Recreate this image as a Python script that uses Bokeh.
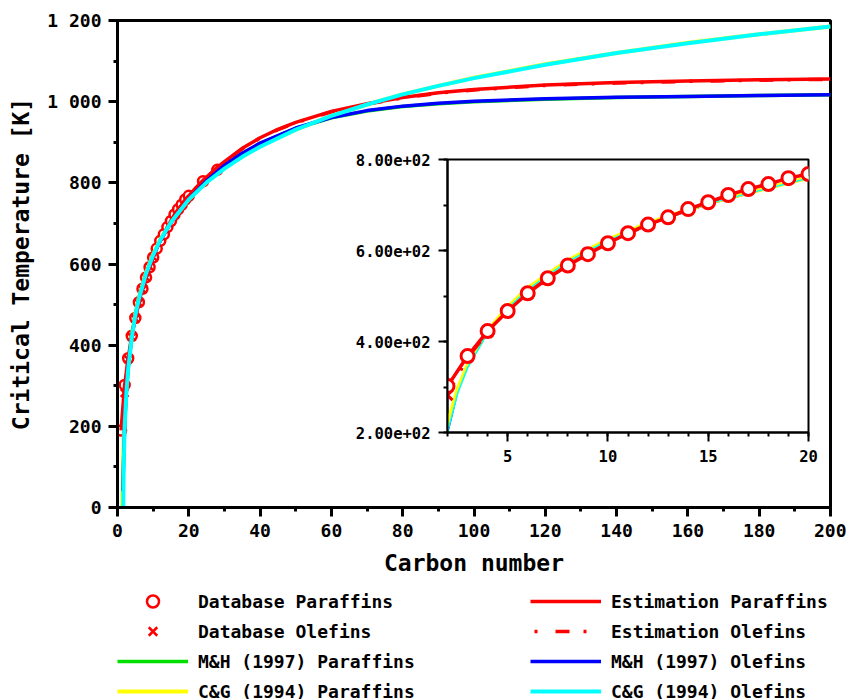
from bokeh.plotting import figure
from bokeh.models import (Range1d, SingleIntervalTicker, CustomJSTickFormatter,
                          Legend, LegendItem)
from bokeh.embed import file_html
from bokeh.resources import INLINE

FONT = "DejaVu Sans Mono"

# ---------------- data ----------------
# Database paraffins (circles)
db_par_n = [1, 2, 3, 4, 5, 6, 7, 8, 9, 10, 11, 12, 13, 14, 15, 16, 17, 18, 19, 20, 24, 28]
db_par_t = [190, 302, 368, 423, 467, 506, 539, 567, 592, 616, 638, 657, 673, 691, 706,
            722, 735, 746, 759, 768, 804, 832]
# Database olefins (crosses)
db_ol_n = [2, 3, 4, 5, 6, 7, 8, 9, 10]
db_ol_t = [282, 365, 420, 465, 504, 537, 567, 594, 617]

# Estimation paraffins (red solid)
est_par_n = [1, 2, 3, 4, 5, 6, 7, 8, 9, 10, 11, 12, 13, 14, 15, 16, 17, 18, 19, 20,
             22, 24, 26, 28, 30, 35, 40, 45, 50, 60, 70, 80, 90, 100,
             120, 140, 160, 180, 200]
est_par_t = [190, 302, 368, 423, 467, 506, 539, 567, 592, 616, 638, 657, 673, 691, 706,
             722, 735, 746, 759, 768, 788, 806, 822, 838, 852, 885, 911, 932, 949,
             976, 995, 1010, 1022, 1030, 1041, 1047, 1051, 1054, 1056]
# Estimation olefins (red dash-dot)
est_ol_n = [2, 3, 4, 5, 6, 7, 8, 9, 10, 11, 12, 13, 14, 15, 16, 17, 18, 19, 20,
            22, 24, 26, 28, 30, 35, 40, 45, 50, 60, 70, 80, 90, 100,
            120, 140, 160, 180, 200]
est_ol_t = [282, 364, 419, 465, 504, 537, 566, 593, 616, 637, 656, 673, 690, 706, 721,
            734, 746, 758, 768, 787, 805, 821, 837, 851, 884, 910, 931, 948,
            975, 994, 1009, 1021, 1029, 1040, 1046, 1050, 1053, 1055]

# Marano & Holder (1997)
mh_n = [1.5, 1.75, 2, 2.5, 3, 4, 5, 6, 8, 10, 12, 15, 20, 25, 30, 35, 40, 50, 60, 70,
        80, 90, 100, 120, 140, 160, 180, 200]
mh_par_t = [60, 150, 215, 298, 350, 425, 477, 517, 577, 621, 658, 703, 760, 805, 842,
            872, 897, 934, 960, 977, 988, 995, 1000, 1006, 1010, 1013, 1015, 1017]
mh_ol_t = [40, 130, 200, 290, 345, 420, 473, 514, 575, 620, 657, 702, 760, 805, 843,
           873, 898, 935, 961, 978, 989, 996, 1001, 1007, 1011, 1013, 1015, 1017]

# Constantinou & Gani (1994)
cg_par_n = [1.33, 1.4, 1.5, 1.75, 2, 2.5, 3, 4, 5, 6, 8, 10, 12, 15, 20, 25, 30, 35, 40,
            50, 60, 70, 80, 90, 100, 120, 140, 160, 180, 200]
cg_par_t = [3, 42, 86, 165, 219, 295, 348, 423, 476, 517, 578, 624, 660, 704, 760, 802,
            836, 865, 890, 931, 965, 993, 1018, 1039, 1059, 1092, 1120, 1145, 1166, 1185]
cg_ol_n = [1.6, 1.7, 1.8, 2, 2.5, 3, 4, 5, 6, 8, 10, 12, 15, 20, 25, 30, 35, 40,
           50, 60, 70, 80, 90, 100, 120, 140, 160, 180, 200]
cg_ol_t = [0, 70, 125, 200, 285, 342, 419, 473, 514, 576, 622, 659, 703, 759, 801,
           835, 864, 889, 931, 965, 993, 1018, 1039, 1058, 1091, 1120, 1144, 1166, 1185]

RED, GREEN, YELLOW, BLUE, CYAN = "#ff0000", "#00e000", "#ffff00", "#0000ff", "#00ffff"
DASHDOT = "14 14 3 18"


def draw_series(fig, inset=False):
    """Draw all eight series on a figure; returns the renderers keyed by series."""
    r = {}
    if inset:
        r["mhp"] = fig.line(mh_n, mh_par_t, line_color=GREEN, line_width=2)
        r["mho"] = fig.line(mh_n, mh_ol_t, line_color=BLUE, line_width=2)
        r["cgp"] = fig.line(cg_par_n, cg_par_t, line_color=YELLOW, line_width=4)
        r["cgo"] = fig.line(cg_ol_n, cg_ol_t, line_color=CYAN, line_width=1.5)
        r["esto"] = fig.line(est_ol_n, est_ol_t, line_color=RED, line_width=3, line_dash=DASHDOT)
        r["estp"] = fig.line(est_par_n, est_par_t, line_color=RED, line_width=3.5)
        r["dbo"] = fig.scatter(db_ol_n, db_ol_t, marker="x", size=14, line_color=RED, line_width=3)
        r["dbp"] = fig.scatter(db_par_n, db_par_t, marker="circle", size=13, line_color=RED,
                               line_width=3, fill_color="white")
    else:
        r["dbp"] = fig.scatter(db_par_n, db_par_t, marker="circle", size=10, line_color=RED,
                               line_width=2.5, fill_color="white")
        r["dbo"] = fig.scatter(db_ol_n, db_ol_t, marker="x", size=11, line_color=RED, line_width=2.5)
        r["mhp"] = fig.line(mh_n, mh_par_t, line_color=GREEN, line_width=3.5)
        r["cgp"] = fig.line(cg_par_n, cg_par_t, line_color=YELLOW, line_width=4)
        r["estp"] = fig.line(est_par_n, est_par_t, line_color=RED, line_width=3.5)
        r["esto"] = fig.line(est_ol_n, est_ol_t, line_color=RED, line_width=3.5,
                             line_dash=DASHDOT, line_dash_offset=24)
        r["mho"] = fig.line(mh_n, mh_ol_t, line_color=BLUE, line_width=3.5)
        r["cgo"] = fig.line(cg_ol_n, cg_ol_t, line_color=CYAN, line_width=4)
    return r


# ---------------- main figure ----------------
p = figure(width=846, height=699, x_range=Range1d(0, 200), y_range=Range1d(0, 1200),
           output_backend="svg", toolbar_location=None,
           min_border_left=117, min_border_right=16, min_border_top=20, min_border_bottom=192)
p.outline_line_color = "black"
p.outline_line_width = 3
p.xgrid.visible = False
p.ygrid.visible = False

p.xaxis.ticker = SingleIntervalTicker(interval=20, num_minor_ticks=2)
p.yaxis.ticker = SingleIntervalTicker(interval=200, num_minor_ticks=2)
p.yaxis.formatter = CustomJSTickFormatter(code="""
    if (tick >= 1000) { return Math.floor(tick/1000) + ' ' + String(tick % 1000).padStart(3, '0'); }
    return String(tick);
""")
p.xaxis.axis_label = "Carbon number"
p.yaxis.axis_label = "Critical Temperature [K]"
for ax in (p.xaxis[0], p.yaxis[0]):
    ax.axis_line_width = 3
    ax.major_tick_line_width = 3
    ax.minor_tick_line_width = 3
    ax.major_tick_out = 9
    ax.major_tick_in = 0
    ax.minor_tick_out = 4
    ax.minor_tick_in = 0
    ax.major_label_standoff = 7
    ax.major_label_text_font = FONT
    ax.major_label_text_font_style = "bold"
    ax.major_label_text_font_size = "18px"
    ax.major_label_text_color = "black"
    ax.axis_label_text_font = FONT
    ax.axis_label_text_font_style = "bold"
    ax.axis_label_text_font_size = "23px"
    ax.axis_label_text_color = "black"
    ax.axis_label_standoff = 10

draw_series(p)

# ---------------- inset figure (overlaid) ----------------
q = figure(width=846, height=699, x_range=Range1d(2, 20), y_range=Range1d(200, 800),
           output_backend="svg", toolbar_location=None,
           min_border_left=447, min_border_right=38, min_border_top=159, min_border_bottom=267,
           border_fill_color=None, background_fill_color="white")
q.styles = {"position": "absolute", "left": "0px", "top": "0px"}
q.outline_line_color = "black"
q.outline_line_width = 2
q.xgrid.visible = False
q.ygrid.visible = False
q.xaxis.ticker = SingleIntervalTicker(interval=5, num_minor_ticks=5)
q.yaxis.ticker = SingleIntervalTicker(interval=200, num_minor_ticks=2)
q.yaxis.formatter = CustomJSTickFormatter(code="""
    return tick.toExponential(2).replace(/e([+-])(\\d)$/, 'e$10$2');
""")
for ax in (q.xaxis[0], q.yaxis[0]):
    ax.axis_line_width = 2
    ax.major_tick_line_width = 2
    ax.minor_tick_line_width = 2
    ax.major_tick_out = 9
    ax.major_tick_in = 0
    ax.minor_tick_out = 4
    ax.minor_tick_in = 0
    ax.major_label_standoff = 8
    ax.major_label_text_font = FONT
    ax.major_label_text_font_style = "bold"
    ax.major_label_text_font_size = "15.5px"
    ax.major_label_text_color = "black"

draw_series(q, inset=True)

# ---------------- legend layer (overlaid, frame = legend strip) ----------------
lg = figure(width=846, height=699, x_range=Range1d(-20, -10), y_range=Range1d(-20, -10),
            output_backend="svg", toolbar_location=None,
            x_axis_location=None, y_axis_location=None,
            min_border_left=0, min_border_right=0, min_border_top=580, min_border_bottom=0,
            border_fill_color=None, background_fill_color=None)
lg.styles = {"position": "absolute", "left": "0px", "top": "0px"}
lg.outline_line_color = None
lg.xgrid.visible = False
lg.ygrid.visible = False
lr = draw_series(lg)  # same series, out of this layer's view; used for legend glyphs

items = [
    LegendItem(label="Database Paraffins", renderers=[lr["dbp"]]),
    LegendItem(label="Database Olefins", renderers=[lr["dbo"]]),
    LegendItem(label="M&H (1997) Paraffins", renderers=[lr["mhp"]]),
    LegendItem(label="C&G (1994) Paraffins", renderers=[lr["cgp"]]),
    LegendItem(label="Estimation Paraffins", renderers=[lr["estp"]]),
    LegendItem(label="Estimation Olefins", renderers=[lr["esto"]]),
    LegendItem(label="M&H (1997) Olefins", renderers=[lr["mho"]]),
    LegendItem(label="C&G (1994) Olefins", renderers=[lr["cgo"]]),
]
legend = Legend(items=items, location=(117, -7), orientation="vertical", ncols=2,
                glyph_width=71, glyph_height=30, label_standoff=10, label_width=332,
                label_height=30, spacing=0, padding=0, margin=0,
                border_line_color=None, background_fill_alpha=0,
                label_text_font=FONT, label_text_font_style="bold",
                label_text_font_size="18px", label_text_color="black")
lg.add_layout(legend)

open("out.html", "w").write(file_html([p, q, lg], INLINE))
